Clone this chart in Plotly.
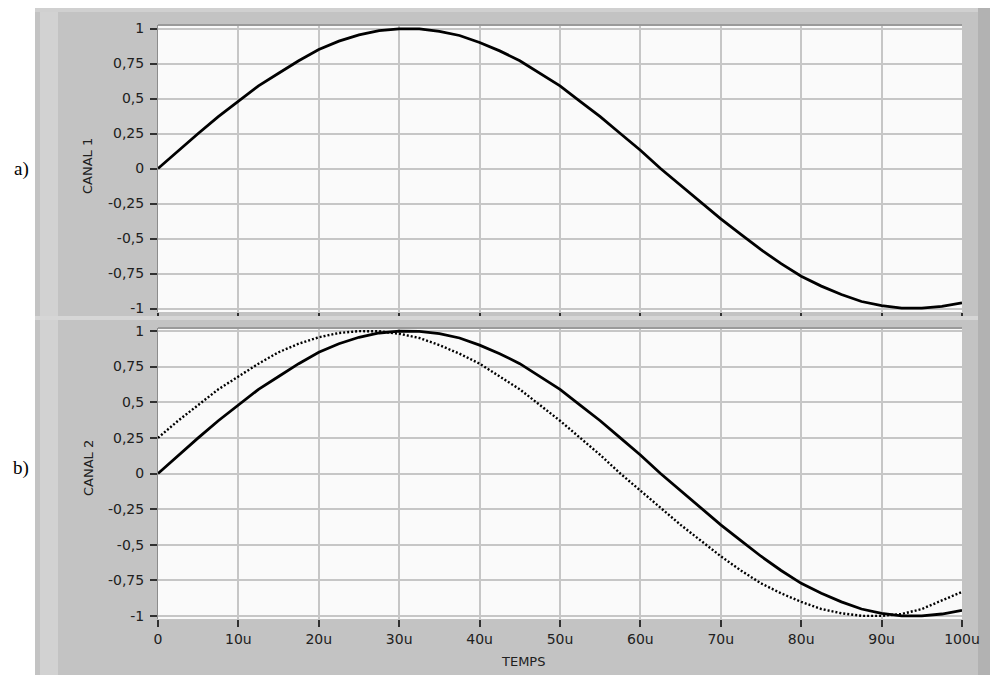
import plotly.graph_objects as go

# ---- data ----
t_us = [0, 2.5, 5, 7.5, 10, 12.5, 15, 17.5, 20, 22.5, 25, 27.5, 30, 32.5, 35, 37.5, 40,
        42.5, 45, 47.5, 50, 52.5, 55, 57.5, 60, 62.5, 65, 67.5, 70, 72.5, 75, 77.5, 80,
        82.5, 85, 87.5, 90, 92.5, 95, 97.5, 100]
canal1 = [0.0, 0.126, 0.25, 0.37, 0.48, 0.59, 0.68, 0.77, 0.85, 0.91, 0.955, 0.985, 0.998,
          0.997, 0.98, 0.95, 0.90, 0.84, 0.77, 0.68, 0.59, 0.48, 0.37, 0.25, 0.13, 0.0,
          -0.12, -0.24, -0.36, -0.47, -0.58, -0.68, -0.77, -0.84, -0.90, -0.95, -0.98,
          -0.998, -0.998, -0.985, -0.96]
canal2_dotted = [0.25, 0.37, 0.48, 0.59, 0.68, 0.77, 0.85, 0.91, 0.955, 0.985, 0.998, 0.997,
                 0.98, 0.95, 0.90, 0.84, 0.77, 0.68, 0.59, 0.48, 0.37, 0.25, 0.13, 0.0,
                 -0.12, -0.24, -0.36, -0.47, -0.58, -0.68, -0.77, -0.84, -0.90, -0.95,
                 -0.98, -0.998, -0.998, -0.985, -0.95, -0.89, -0.83]
y_tick_vals = [-1, -0.75, -0.5, -0.25, 0, 0.25, 0.5, 0.75, 1]
y_tick_text = ["-1", "-0,75", "-0,5", "-0,25", "0", "0,25", "0,5", "0,75", "1"]
x_tick_vals = [0, 10, 20, 30, 40, 50, 60, 70, 80, 90, 100]
x_tick_text = ["0", "10u", "20u", "30u", "40u", "50u", "60u", "70u", "80u", "90u", "100u"]

W, H = 990, 675
def px(x):
    return x / W
def py(y):
    return 1 - y / H

FONT = "DejaVu Sans"
GRAY = "#c3c3c3"
fig = go.Figure()
fig.add_trace(go.Scatter(x=t_us, y=canal1, mode="lines", line=dict(color="black", width=2.8),
                         xaxis="x", yaxis="y", showlegend=False))
fig.add_trace(go.Scatter(x=t_us, y=canal2_dotted, mode="lines",
                         line=dict(color="black", width=2.4, dash="2px,2px"),
                         xaxis="x2", yaxis="y2", showlegend=False))
fig.add_trace(go.Scatter(x=t_us, y=canal1, mode="lines", line=dict(color="black", width=2.8),
                         xaxis="x2", yaxis="y2", showlegend=False))

xdom = [px(158), px(962)]
common_x = dict(range=[0, 100], tickvals=x_tick_vals, ticktext=x_tick_text, showgrid=True,
                gridcolor="#c6c6c6", gridwidth=2, zeroline=False, ticks="outside",
                tickcolor="#303030", tickwidth=1.5, tickfont=dict(family=FONT, size=14, color="#202020"),
                domain=xdom, fixedrange=True, automargin=False)
common_y = dict(range=[-1.025, 1.025], tickvals=y_tick_vals, ticktext=y_tick_text, showgrid=True,
                gridcolor="#c6c6c6", gridwidth=2, zeroline=False, ticks="outside", ticklen=7,
                tickcolor="#303030", tickwidth=1.5, tickfont=dict(family=FONT, size=14, color="#202020"),
                showline=True, linecolor="#8c8c8c", linewidth=1, fixedrange=True, automargin=False,
                ticklabelstandoff=3)

shapes = [
    # white outside the grey frame (paper is grey)
    dict(type="rect", xref="paper", yref="paper", x0=0, x1=px(35), y0=0, y1=1,
         fillcolor="white", line=dict(width=0), layer="below"),
    dict(type="rect", xref="paper", yref="paper", x0=0, x1=1, y0=py(8), y1=1,
         fillcolor="white", line=dict(width=0), layer="below"),
    # lighter/darker strips of the frame
    dict(type="rect", xref="paper", yref="paper", x0=px(40), x1=px(58), y0=0, y1=py(8),
         fillcolor="#d2d2d2", line=dict(width=0), layer="below"),
    dict(type="rect", xref="paper", yref="paper", x0=px(35), x1=1, y0=py(12), y1=py(8),
         fillcolor="#d0d0d0", line=dict(width=0), layer="below"),
    dict(type="rect", xref="paper", yref="paper", x0=px(978), x1=1, y0=0, y1=py(8),
         fillcolor="#b2b2b2", line=dict(width=0), layer="below"),
    dict(type="rect", xref="paper", yref="paper", x0=px(35), x1=px(978), y0=py(320), y1=py(316),
         fillcolor="#d6d6d6", line=dict(width=0), layer="below"),
    # top borders of plot areas
    dict(type="line", xref="paper", yref="paper", x0=xdom[0], x1=xdom[1], y0=py(25), y1=py(25),
         line=dict(color="#9a9a9a", width=2)),
    dict(type="line", xref="paper", yref="paper", x0=xdom[0], x1=xdom[1], y0=py(328), y1=py(328),
         line=dict(color="#9a9a9a", width=2)),
]

ann_common = dict(xref="paper", yref="paper", showarrow=False, xanchor="center", yanchor="middle")
annotations = [
    dict(ann_common, text="CANAL 1", x=px(88), y=py(166), textangle=-90,
         font=dict(family=FONT, size=13, color="#202020")),
    dict(ann_common, text="CANAL 2", x=px(88), y=py(468), textangle=-90,
         font=dict(family=FONT, size=13, color="#202020")),
    dict(ann_common, text="TEMPS", x=px(523), y=py(661),
         font=dict(family=FONT, size=13, color="#202020")),
    dict(ann_common, text="a)", x=px(21), y=py(169),
         font=dict(family="Liberation Serif", size=19, color="black")),
    dict(ann_common, text="b)", x=px(21), y=py(468),
         font=dict(family="Liberation Serif", size=19, color="black")),
]

fig.update_layout(
    width=W, height=H, margin=dict(l=0, r=0, t=0, b=0, pad=0, autoexpand=False),
    paper_bgcolor=GRAY, plot_bgcolor="#fafafa", showlegend=False,
    xaxis=dict(common_x, anchor="y", showticklabels=False, ticklen=3),
    yaxis=dict(common_y, anchor="x", domain=[py(312), py(25)]),
    xaxis2=dict(common_x, anchor="y2", showticklabels=True, ticklen=7),
    yaxis2=dict(common_y, anchor="x2", domain=[py(619), py(328)], range=[-1.02, 1.02]),
    shapes=shapes, annotations=annotations,
)
fig.write_html("out.html", config={"displayModeBar": False})
